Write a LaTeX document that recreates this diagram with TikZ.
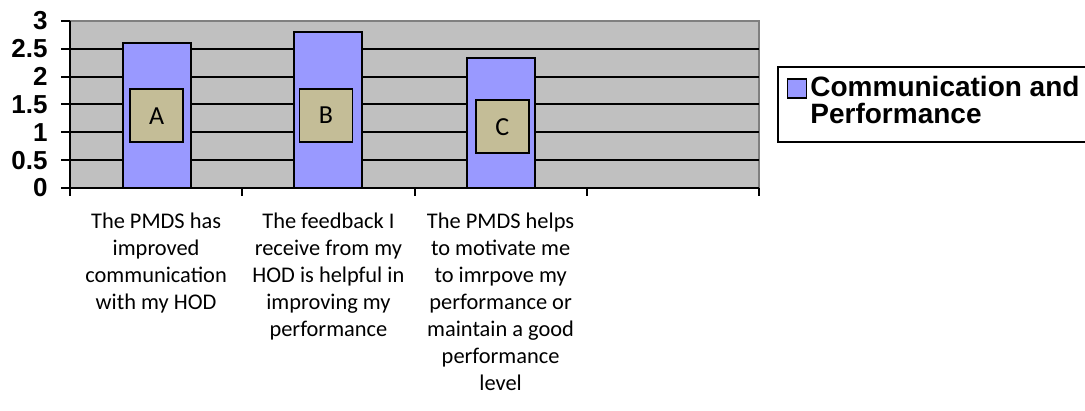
\documentclass[tikz,border=0pt]{standalone}
\usepackage{fontspec}
\setmainfont{Liberation Sans}
\newfontfamily\calib{Carlito}
\definecolor{plotgrey}{HTML}{C0C0C0}
\definecolor{framegrey}{HTML}{808080}
\definecolor{barblue}{HTML}{9999FF}
\definecolor{tagtan}{HTML}{C4BD97}
\newcommand{\axisfont}{\fontsize{13}{15}\selectfont\bfseries}
\newcommand{\catfont}{\calib\fontsize{11.2}{13.5}\selectfont}
\newcommand{\legfont}{\fontsize{14}{13.5}\selectfont\bfseries}
\tikzset{gridline/.style={black,line width=1pt},
  bar/.style={fill=barblue,draw=black,line width=1pt},
  tagbox/.style={fill=tagtan,draw=black,line width=0.8pt,minimum width=26.5pt,
    minimum height=26.5pt,inner sep=0,font=\calib\fontsize{13}{15}\selectfont},
  catlabel/.style={anchor=north,inner sep=0,align=center,font=\catfont}}
\begin{document}
\begin{tikzpicture}[x=0.5pt,y=-0.5pt]
\useasboundingbox (0,0) rectangle (1085,411);
% plot area
\fill[plotgrey] (70,21) rectangle (759,188);
\draw[framegrey,line width=1.2pt] (70,21) -- (759,21) -- (759,188);
\foreach \v in {0.5,1,1.5,2,2.5}
  \draw[gridline] (61,{188-55.67*\v}) -- (759,{188-55.67*\v});
\foreach \v [count=\i] in {0,0.5,1,1.5,2,2.5,3}{
  \draw[gridline] (61,{188-55.67*\v}) -- (70,{188-55.67*\v});
  \node[anchor=east,inner sep=0,font=\axisfont] (ylab\i) at (48,{188-55.67*\v}) {\v};}
% bars
\foreach \x/\v in {156.5/2.6,328.3/2.8,501.2/2.33}
  \draw[bar] (\x-34,188) rectangle (\x+34,{188-55.67*\v});
\draw[black,line width=1pt] (70,21) -- (70,188) -- (759,188);
\foreach \x in {70,242.25,414.5,586.75,759}
  \draw[black,line width=1pt] (\x,188) -- (\x,196);
% tags
\node[tagbox] (taga) at (156.7,115.7) {A};
\node[tagbox] (tagb) at (326,115.5) {B};
\node[tagbox] (tagc) at (502.2,126.7) {C};
% category labels
\node[catlabel] (cata) at (156.1,213) {The PMDS has\\improved\\communication\\with my HOD};
\node[catlabel] (catb) at (328.4,213) {The feedback I\\receive from my\\HOD is helpful in\\improving my\\performance};
\node[catlabel] (catc) at (500.6,213) {The PMDS helps\\to motivate me\\to imrpove my\\performance or\\maintain a good\\performance\\level};
% legend
\draw[black,line width=1pt] (1088,67) -- (778,67) -- (778,142) -- (1088,142);
\node[draw=black,line width=0.8pt,fill=barblue,minimum size=9.5pt,inner sep=0] (legkey) at (797,88.5) {};
\node[anchor=north west,inner sep=0,align=left,font=\legfont] (legtext) at (810,76) {Communication and\\Performance};
\end{tikzpicture}
\end{document}
